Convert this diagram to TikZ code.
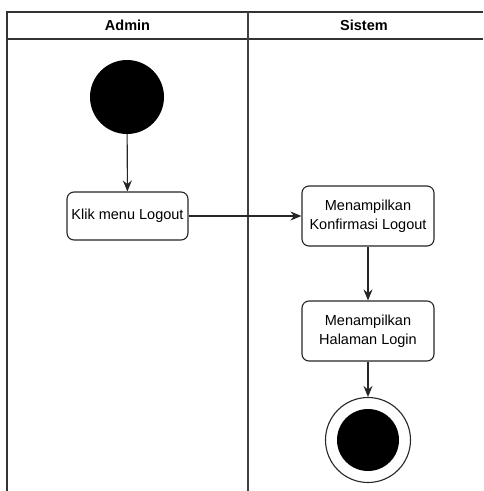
\documentclass[tikz,border=0pt]{standalone}
\usepackage{fontspec}
\setmainfont{Liberation Sans}
\usetikzlibrary{arrows.meta}
\begin{document}
\begin{tikzpicture}[x=1pt,y=-1pt,
  lane/.style={draw=black!80, line width=1.3pt},
  divider/.style={draw=black!75, line width=2pt},
  action/.style={draw=black!85, line width=1.1pt, rounded corners=7pt, fill=white,
    align=center, font=\fontsize{14.5}{18.5}\selectfont, inner sep=0pt},
  flow/.style={draw=black!85, line width=1.1pt, -{Stealth[length=11pt,width=9pt]}},
  lanetitle/.style={font=\bfseries\fontsize{14.5}{17}\selectfont}]
\useasboundingbox (0,0) rectangle (483,491);
% swimlane frame
\draw[lane] (483,12) -- (7,12) -- (7,491);
\draw[lane] (7,39) -- (483,39);
\draw[divider] (248,12) -- (248,491);
\node[lanetitle] (admin) at (127.5,25.5) {Admin};
\node[lanetitle] (sistem) at (364,25.5) {Sistem};
% activities
\node[circle, fill=black, minimum size=74pt, inner sep=0pt] (start) at (127,97) {};
\node[action, minimum width=121pt, minimum height=48pt] (klik) at (127.5,216) {Klik menu Logout};
\node[action, minimum width=132pt, minimum height=60pt] (konf) at (368,216) {Menampilkan\\Konfirmasi Logout};
\node[action, minimum width=132pt, minimum height=60pt] (hal) at (368,331) {Menampilkan\\Halaman Login};
\node[circle, draw=black!85, line width=1.1pt, fill=white, minimum size=85pt, inner sep=0pt] (end) at (368,440) {};
\node[circle, fill=black, minimum size=62pt, inner sep=0pt] (endin) at (end.center) {};
% control flow
\draw[flow] (start) -- (klik);
\draw[flow] (klik) -- (konf);
\draw[flow] (konf) -- (hal);
\draw[flow] (hal) -- (end);
\end{tikzpicture}
\end{document}
